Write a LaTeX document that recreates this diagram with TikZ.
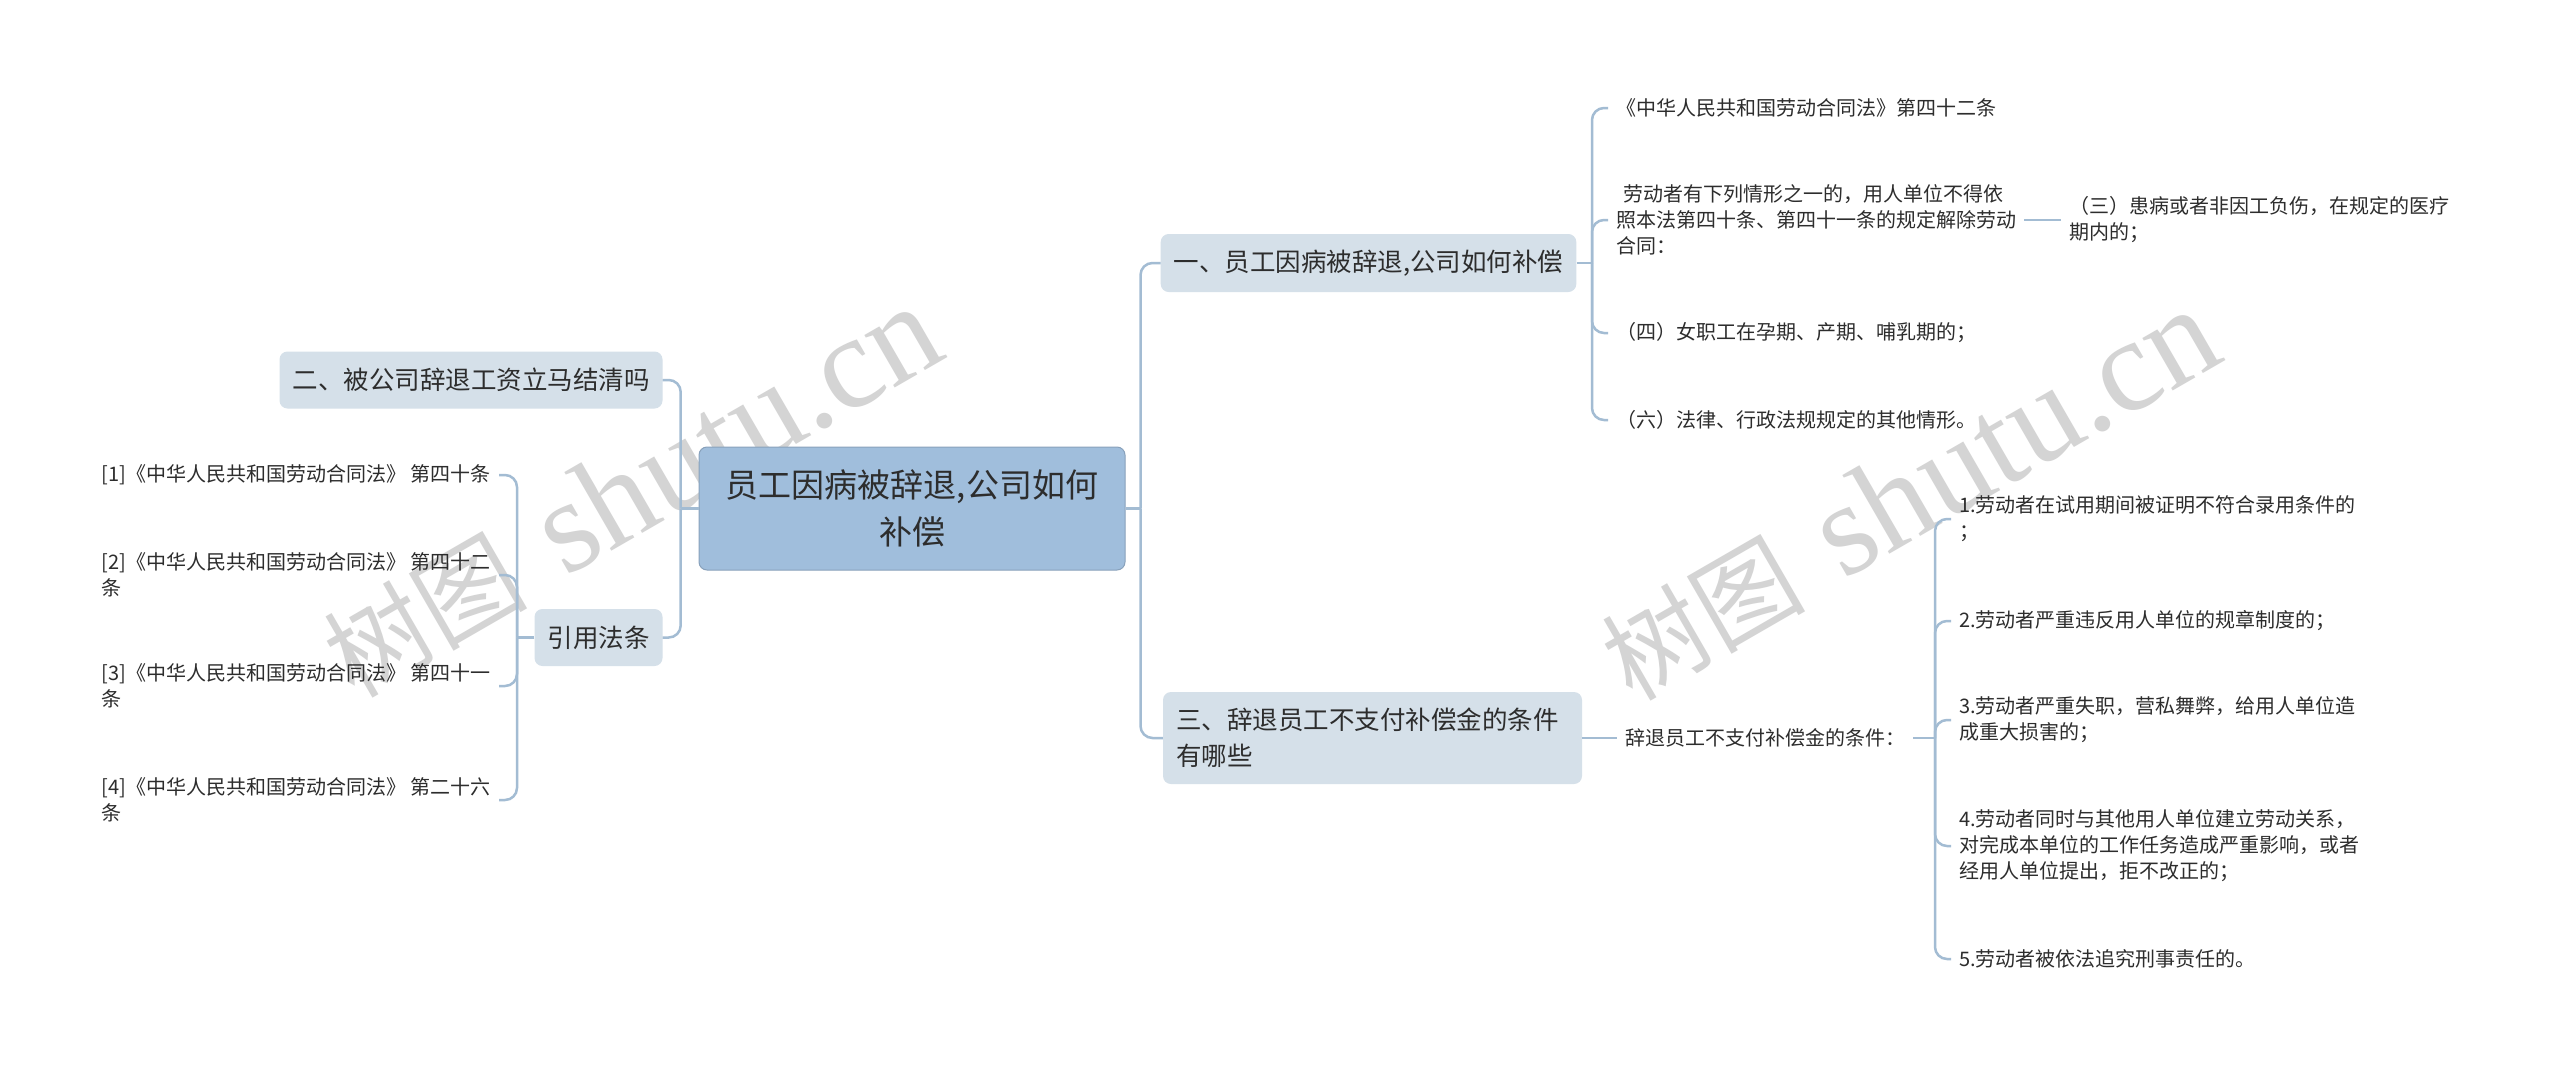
\documentclass[tikz,border=0pt]{standalone}
\usepackage{fontspec}
\setmainfont{Noto Sans CJK SC}
\newfontfamily\wmlatin{Liberation Serif}
\definecolor{rootblue}{RGB}{160,190,220}
\definecolor{topicgray}{RGB}{213,224,233}
\definecolor{linkblue}{RGB}{163,188,211}
\definecolor{inkgray}{RGB}{45,45,45}
\definecolor{markgray}{RGB}{212,212,212}

\begin{document}
\begin{tikzpicture}[x=1pt,y=-1pt,
		root/.style={fill=rootblue, draw=rootblue!85!black, line width=1pt, rounded corners=8pt,
			minimum width=426pt, minimum height=123pt, align=center, text=inkgray,
			font=\fontsize{33}{47}\selectfont},
		topic/.style={fill=topicgray, rounded corners=8pt, minimum height=58pt, inner xsep=13pt,
			text=inkgray, font=\fontsize{25.5}{36}\selectfont},
		leaf/.style={align=left, inner xsep=8pt, text=inkgray, font=\fontsize{20}{26}\selectfont},
		link/.style={draw=linkblue, line width=2.5pt, rounded corners=12pt},
		wmark/.style={text=markgray, rotate=30, anchor=base west, inner sep=0pt}
	]
	\useasboundingbox (0,0) rectangle (2560,1065);
	\fill[white] (0,0) rectangle (2560,1065);
	\node[wmark] (wm1) at (354,700) {{\fontsize{102}{102}\selectfont 树图}\hspace{40pt}{\wmlatin\fontsize{132}{132}\selectfont shutu.cn}};
	\node[wmark] (wm2) at (1632,703) {{\fontsize{102}{102}\selectfont 树图}\hspace{40pt}{\wmlatin\fontsize{132}{132}\selectfont shutu.cn}};

	\node[root] (root) at (912,508.5) {员工因病被辞退,公司如何\\补偿};
	\node[topic, minimum width=411pt] (q1) at (1368.5,263) {一、员工因病被辞退,公司如何补偿};
	\node[topic, minimum width=419pt, minimum height=92pt, text width=393pt, align=left] (q3) at (1372.5,738) {三、辞退员工不支付补偿金的条件\\有哪些};
	\node[topic, minimum width=380pt, minimum height=57pt] (q2) at (471,380) {二、被公司辞退工资立马结清吗};
	\node[topic, minimum width=125pt, minimum height=57pt] (cite) at (598.5,637.5) {引用法条};

	\node[leaf, anchor=west] (a1) at (1608,108) {《中华人民共和国劳动合同法》第四十二条};
	\node[leaf, anchor=west] (a2) at (1608,220) {\hspace*{0.35em}劳动者有下列情形之一的，用人单位不得依\\照本法第四十条、第四十一条的规定解除劳动\\合同：};
	\node[leaf, anchor=west] (a3) at (2061,220) {（三）患病或者非因工负伤，在规定的医疗\\期内的；};
	\node[leaf, anchor=west] (a4) at (1608,333) {（四）女职工在孕期、产期、哺乳期的；};
	\node[leaf, anchor=west] (a5) at (1608,420) {（六）法律、行政法规规定的其他情形。};

	\node[leaf, anchor=west] (cond) at (1617,738) {辞退员工不支付补偿金的条件：};
	\node[leaf, anchor=west] (b1) at (1951,519) {1.劳动者在试用期间被证明不符合录用条件的\\；};
	\node[leaf, anchor=west] (b2) at (1951,621) {2.劳动者严重违反用人单位的规章制度的；};
	\node[leaf, anchor=west] (b3) at (1951,720) {3.劳动者严重失职，营私舞弊，给用人单位造\\成重大损害的；};
	\node[leaf, anchor=west] (b4) at (1951,846) {4.劳动者同时与其他用人单位建立劳动关系，\\对完成本单位的工作任务造成严重影响，或者\\经用人单位提出，拒不改正的；};
	\node[leaf, anchor=west] (b5) at (1951,959) {5.劳动者被依法追究刑事责任的。};

	\node[leaf, anchor=east] (c1) at (499,475) {[1]《中华人民共和国劳动合同法》 第四十条};
	\node[leaf, anchor=east] (c2) at (499,575) {[2]《中华人民共和国劳动合同法》 第四十二\\条};
	\node[leaf, anchor=east] (c3) at (499,686) {[3]《中华人民共和国劳动合同法》 第四十一\\条};
	\node[leaf, anchor=east] (c4) at (499,800) {[4]《中华人民共和国劳动合同法》 第二十六\\条};

	\coordinate (lj) at ([xshift=18pt]q2.east |- root.west);
	\coordinate (rj) at ([xshift=-20pt]q1.west |- root.east);
	\coordinate (cj) at ([xshift=18pt]c1.east |- cite.west);
	\coordinate (aj) at ([xshift=-16pt]a1.west |- q1.east);
	\coordinate (bj) at ([xshift=-16pt]b1.west |- cond.east);

	\draw[link] (root.west) -- (lj);
	\draw[link] (root.east) -- (rj);
	\draw[link] (cite.west) -- (cj);
	\draw[link] (q1.east) -- (aj);
	\draw[link] (cond.east) -- (bj);
	\draw[link] (q3.east) -- (cond.west);
	\draw[link] (a2.east) -- (a3.west);
	\foreach \n in {q2,cite} \draw[link] (lj) |- (\n.east);
	\foreach \n in {q1,q3} \draw[link] (rj) |- (\n.west);
	\foreach \n in {c1,c2,c3,c4} \draw[link] (cj) |- (\n.east);
	\foreach \n in {a1,a2,a4,a5} \draw[link] (aj) |- (\n.west);
	\foreach \n in {b1,b2,b3,b4,b5} \draw[link] (bj) |- (\n.west);
\end{tikzpicture}
\end{document}
